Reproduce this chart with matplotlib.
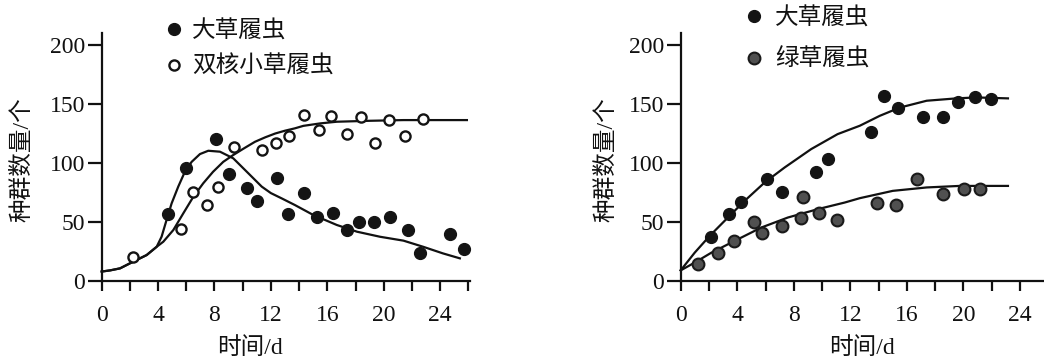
import numpy as np
import matplotlib.pyplot as plt
from matplotlib.ticker import MultipleLocator

# ---- left panel: 大草履虫 vs 双核小草履虫 ----
big_x = [4.73, 5.96, 8.1, 9.05, 10.3, 11.0, 12.4, 13.2, 14.35, 15.25, 16.4, 17.4,
         18.25, 19.3, 20.45, 21.75, 22.6, 24.7, 25.7]
big_y = [57, 95.5, 120, 91, 79, 68, 87, 56.5, 75, 54, 58, 43,
         50, 50, 54, 43, 24, 40, 27]
dbl_x = [2.2, 5.63, 6.45, 7.5, 8.27, 9.4, 11.35, 12.36, 13.3, 14.35, 15.44, 16.26,
         17.4, 18.4, 19.4, 20.4, 21.5, 22.8]
dbl_y = [20, 44, 75.7, 64.4, 80, 114, 111, 116.7, 123, 140.7, 128, 139.8,
         125, 139, 116.7, 136.4, 123, 137]

# fitted curves
big_fit_x = [0, 0.6, 1.3, 2.24, 3.19, 3.9, 4.25, 4.6, 4.96, 5.43, 5.9, 6.38, 6.97,
             7.56, 8.39, 9.33, 10.4, 11.35, 12.0, 12.77, 13.7, 15.0, 16.67, 18.1,
             19.74, 21.4, 22.8, 24.2, 25.4]
big_fit_y = [8, 9, 10.7, 16.4, 22, 29, 37.6, 51.7, 65.8, 80, 92.6, 101, 107.6,
             110.4, 109.6, 104, 91.3, 80, 74.5, 70, 64.4, 56, 47.5, 41.8,
             37.5, 34.2, 29, 23.4, 19.2]
dbl_fit_x = [0, 0.6, 1.3, 2.24, 3.19, 3.9, 4.37, 5.08, 5.79, 6.5, 7.2, 7.9, 8.62,
             9.33, 10.1, 10.87, 11.6, 12.3, 13.0, 13.7, 14.3, 15.5, 16.67, 19.0,
             21.4, 25.9]
dbl_fit_y = [8, 9, 10.7, 16.4, 22, 29, 33.3, 43.2, 57.4, 71.4, 82.8, 92.6, 101,
             106.8, 112.5, 118, 121.8, 125, 127.4, 129.4, 131.5, 133.6, 135, 135.8,
             136.4, 136.4]

# ---- right panel: 大草履虫 vs 绿草履虫 ----
r_big_x = [2.12, 3.42, 4.27, 6.13, 7.15, 9.55, 10.45, 13.47, 14.39, 15.35, 17.17,
           18.58, 19.6, 20.83, 21.93]
r_big_y = [37.6, 56.6, 67, 86.3, 75.8, 92.5, 103.3, 126.7, 156.4, 147, 138.6,
           138.6, 152, 155.6, 154]
grn_x = [1.2, 2.67, 3.77, 5.21, 5.73, 7.15, 8.49, 8.63, 9.79, 11.08, 13.87, 15.24,
         16.7, 18.58, 20.07, 21.18]
grn_y = [14, 24, 34, 50, 40.5, 46.7, 53, 71.6, 58, 51.8, 66.5, 64.5,
         86.8, 73.5, 78.4, 78.4]

r_big_fit_x = [0, 0.99, 2.05, 3.34, 4.52, 5.94, 7.35, 9.23, 11.1, 12.67, 14.08,
               15.5, 17.4, 19.5, 20.9, 23.15]
r_big_fit_y = [9, 24, 38.2, 53.8, 67.9, 83.5, 96.2, 111.8, 124.5, 131.6, 140,
               147, 152.8, 154.8, 155.6, 154.8]
grn_fit_x = [0, 0.99, 2.17, 3.82, 5.7, 7.58, 9.7, 11.6, 12.67, 15.0, 17.4, 19.74,
             23.15]
grn_fit_y = [9, 15.6, 24, 34, 45.3, 53.8, 60.9, 66.5, 70.2, 76.4, 79.3, 80.6, 80.6]

xticks = [0, 4, 8, 12, 16, 20, 24]
yticks = [0, 50, 100, 150, 200]

NUM = ['Liberation Serif', 'Noto Sans CJK SC']
CJK = ['Noto Sans CJK SC', 'DejaVu Sans']
INK = '#111111'

fig = plt.figure(figsize=(10.44, 3.58), dpi=100, facecolor='w')
axL = fig.add_axes([0.0974, 0.2151, 0.3532, 0.692])
axR = fig.add_axes([0.652, 0.2151, 0.348, 0.692])


def style(ax, xmax, label_x, ylab_x):
    ax.set_xlim(0, xmax)
    ax.set_ylim(0, 210)
    for s in ['top', 'right']:
        ax.spines[s].set_visible(False)
    for s in ['left', 'bottom']:
        ax.spines[s].set_linewidth(1.6)
        ax.spines[s].set_color(INK)
    ax.xaxis.set_minor_locator(MultipleLocator(2))
    ax.set_xticks(xticks)
    ax.set_yticks(yticks)
    ax.tick_params(axis='x', which='both', direction='out', length=7, width=1.6,
                   color=INK, pad=10)
    ax.tick_params(axis='y', direction='out', length=10, width=1.6,
                   color=INK, pad=2)
    for t in ax.get_xticklabels() + ax.get_yticklabels():
        t.set_family(NUM)
        t.set_fontsize(17)
        t.set_color(INK)
    ax.set_xlabel('时间/d', family=NUM, fontsize=17, color=INK)
    ax.xaxis.set_label_coords(label_x, -0.225)
    ax.set_ylabel('种群数量/个', family=NUM, fontsize=17, color=INK)
    ax.yaxis.set_label_coords(ylab_x, 0.49)


style(axL, 26.15, 0.403, -0.186)
style(axR, 25.7, 0.5, -0.175)

# left
axL.plot(big_fit_x, big_fit_y, color=INK, lw=1.6, clip_on=False)
axL.plot(dbl_fit_x, dbl_fit_y, color=INK, lw=1.6, clip_on=False)
h1, = axL.plot(big_x, big_y, 'o', color='#141414', ms=8.5, mec='#141414',
               clip_on=False, label='大草履虫')
h2, = axL.plot(dbl_x, dbl_y, 'o', mfc='white', mec='#141414', ms=7.3, mew=1.7,
               clip_on=False, label='双核小草履虫')
legL = axL.legend(handles=[h1, h2], loc='upper left', bbox_to_anchor=(0.171, 1.055),
                  frameon=False, prop={'family': CJK, 'size': 17}, handlelength=0.8,
                  handletextpad=0.37, labelspacing=0.53, borderaxespad=0, borderpad=0)
for t in legL.get_texts():
    t.set_color(INK)

# right
axR.plot(r_big_fit_x, r_big_fit_y, color=INK, lw=1.6, clip_on=False)
axR.plot(grn_fit_x, grn_fit_y, color=INK, lw=1.6, clip_on=False)
h3, = axR.plot(r_big_x, r_big_y, 'o', color='#141414', ms=8.5, mec='#141414',
               clip_on=False, label='大草履虫')
h4, = axR.plot(grn_x, grn_y, 'o', mfc='#505050', mec='#1a1a1a', ms=8.5, mew=1.5,
               clip_on=False, label='绿草履虫')
legR = axR.legend(handles=[h3, h4], loc='upper left', bbox_to_anchor=(0.176, 1.109),
                  frameon=False, prop={'family': CJK, 'size': 17}, handlelength=0.8,
                  handletextpad=0.5, labelspacing=0.79, borderaxespad=0, borderpad=0)
for t in legR.get_texts():
    t.set_color(INK)

fig.savefig('out.png', dpi=100, facecolor='w')
